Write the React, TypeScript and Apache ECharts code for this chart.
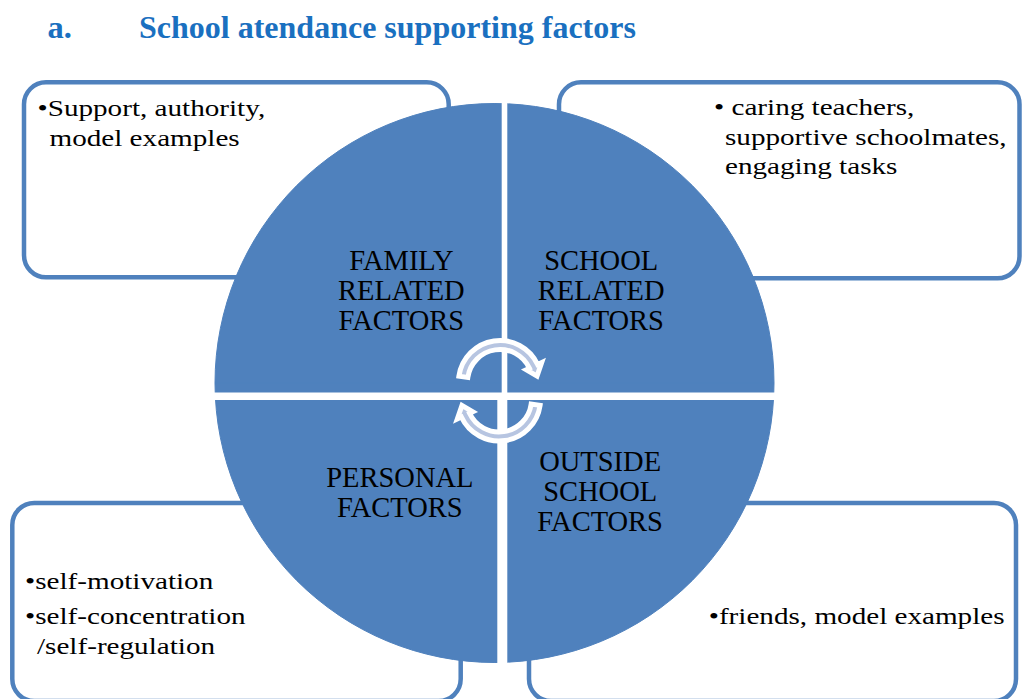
import React, { useEffect, useRef } from "react";
import * as echarts from "echarts";

// ---------- data ----------
const titleParts = ["a.", "School atendance supporting factors"];
const factors = [
  "FAMILY\nRELATED\nFACTORS",
  "SCHOOL\nRELATED\nFACTORS",
  "OUTSIDE\nSCHOOL\nFACTORS",
  "PERSONAL\nFACTORS",
];
const shares = [1, 1, 1, 1];
const familyLines = ["•Support, authority,", "model examples"];
const schoolLines = ["• caring teachers,", "supportive schoolmates,", "engaging tasks"];
const outsideLines = ["•friends, model examples"];
const personalLines = ["•self-motivation", "•self-concentration", "/self-regulation"];

// ---------- layout / style ----------
const SERIF = '"Liberation Serif", "Times New Roman", serif';
const BLUE = "#4f81bd";
const TITLE_BLUE = "#1a70c0";
const ARROW_FILL = "#b7c5e1";

// label fine-tuning (dx, dy) in slice order TL, TR, BR, BL
const labelShift = [
  [7.8, 8.3],
  [5.7, 8.3],
  [4.7, 8],
  [6.3, 9],
];

const ARROW_PATH =
  "M -41.10 -5.78 A 41.5 41.5 0 0 1 37.61 -17.54 L 41.69 -19.44 L 37.04 -5.87 L 26.28 -12.26 L 29.46 -13.74 A 32.5 32.5 0 0 0 -32.18 -4.52 Z";

echarts.graphic.registerShape("cycleArrow", echarts.graphic.extendPath(ARROW_PATH, {}));

type TextBlock = { lines: string[]; pos: [number, number][] };
const textBlocks: TextBlock[] = [
  { lines: familyLines, pos: [[37.5, 108], [49.5, 137.6]] },
  { lines: schoolLines, pos: [[714, 106.5], [725, 137], [725, 166.4]] },
  { lines: outsideLines, pos: [[708.7, 616.2]] },
  { lines: personalLines, pos: [[25, 581.2], [25, 616.2], [37, 645.5]] },
];

const boxes = [
  { x: 24, y: 82.3, w: 424.7, h: 195 },
  { x: 559, y: 82.3, w: 460.5, h: 196 },
  { x: 12.3, y: 503, w: 448.4, h: 198 },
  { x: 529, y: 503, w: 487, h: 198 },
];

function buildOption() {
  const graphics: any[] = [];
  boxes.forEach((b) => {
    graphics.push({
      type: "rect",
      z: 0,
      shape: { x: b.x, y: b.y, width: b.w, height: b.h, r: 22 },
      style: { fill: "#fff", stroke: BLUE, lineWidth: 4.5 },
      silent: true,
    });
  });
  // gaps between the quadrants
  graphics.push(
    { type: "rect", z: 5, shape: { x: 501.7, y: 98, width: 5.6, height: 296 }, style: { fill: "#fff" }, silent: true },
    { type: "rect", z: 5, shape: { x: 205, y: 392.5, width: 580, height: 7.5 }, style: { fill: "#fff" }, silent: true },
    { type: "rect", z: 5, shape: { x: 497.3, y: 398, width: 10, height: 272 }, style: { fill: "#fff" }, silent: true }
  );
  // circular arrows
  graphics.push(
    {
      type: "cycleArrow",
      z: 6,
      x: 500,
      y: 382,
      style: { fill: ARROW_FILL, stroke: "#fff", lineWidth: 5, lineJoin: "miter" },
      silent: true,
    },
    {
      type: "cycleArrow",
      z: 6,
      x: 499,
      y: 399.5,
      rotation: Math.PI,
      style: { fill: ARROW_FILL, stroke: "#fff", lineWidth: 5, lineJoin: "miter" },
      silent: true,
    }
  );
  // title
  graphics.push(
    {
      type: "text",
      z: 10,
      x: 47.5,
      y: 27.3,
      style: { text: titleParts[0], fill: TITLE_BLUE, fontFamily: SERIF, fontWeight: "bold", fontSize: 32.5, align: "left", verticalAlign: "middle" },
    },
    {
      type: "text",
      z: 10,
      x: 139,
      y: 27.3,
      style: { text: titleParts[1], fill: TITLE_BLUE, fontFamily: SERIF, fontWeight: "bold", fontSize: 32, align: "left", verticalAlign: "middle" },
    }
  );
  // box texts
  textBlocks.forEach((blk) => {
    blk.lines.forEach((line, i) => {
      graphics.push({
        type: "text",
        z: 10,
        x: blk.pos[i][0],
        y: blk.pos[i][1],
        scaleX: 1.215,
        style: { text: line, fill: "#000", fontFamily: SERIF, fontSize: 24, align: "left", verticalAlign: "middle" },
      });
    });
  });

  return {
    animation: false,
    backgroundColor: "#fff",
    graphic: { elements: graphics },
    series: [
      {
        type: "pie",
        z: 2,
        center: [494.5, 383],
        radius: [0, 279.5],
        startAngle: 180,
        clockwise: true,
        silent: true,
        emphasis: { disabled: true },
        itemStyle: { color: BLUE, borderColor: BLUE, borderWidth: 1 },
        labelLine: { show: false },
        label: {
          show: true,
          position: "inside",
          formatter: (p: any) => p.name,
          color: "#000",
          fontFamily: SERIF,
          fontSize: 28.5,
          lineHeight: 30,
          align: "center",
        },
        labelLayout: (params: any) => ({
          dx: labelShift[params.dataIndex][0],
          dy: labelShift[params.dataIndex][1],
        }),
        data: factors.map((name, i) => ({
          name,
          value: shares[i],
        })),
      },
    ],
  };
}

export default function App() {
  const ref = useRef<HTMLDivElement>(null);
  useEffect(() => {
    document.body.style.margin = "0";
    const chart = echarts.init(ref.current as HTMLDivElement, null, { renderer: "svg", width: 1022, height: 699 });
    chart.setOption(buildOption() as any);
    return () => chart.dispose();
  }, []);
  return (
    <div
      ref={ref}
      style={{ position: "fixed", left: 0, top: 0, width: 1022, height: 699, background: "#fff" }}
    />
  );
}
